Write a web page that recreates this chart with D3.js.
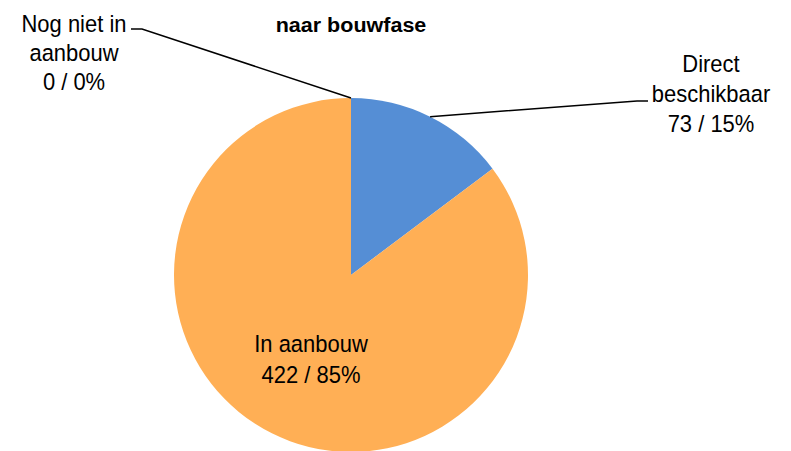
<!DOCTYPE html>
<html><head><meta charset="utf-8">
<script src="https://cdn.jsdelivr.net/npm/d3@7/dist/d3.min.js"></script>
<style>body{margin:0;background:#fff}svg{display:block}text{font-family:"Liberation Sans",Arial,sans-serif}</style>
</head><body>
<script>
const title = "naar bouwfase";
const categories = ["Direct beschikbaar", "In aanbouw", "Nog niet in aanbouw"];
const labelLines = [["Direct", "beschikbaar"], ["In aanbouw"], ["Nog niet in", "aanbouw"]];
const values = [73, 422, 0];
const colors = ["#558ED5", "#FFAF55", "#A5A5A5"];

const W = 791, H = 451;
const cx = 351, cy = 275, R = 177;
const svg = d3.select("body").append("svg").attr("width", W).attr("height", H);

const total = d3.sum(values);
const pie = d3.pie().sort(null).value(d => d)(values);
const arc = d3.arc().innerRadius(0).outerRadius(R);
const g = svg.append("g").attr("transform", `translate(${cx},${cy})`);
g.selectAll("path").data(pie).join("path")
  .attr("d", arc).attr("fill", (d, i) => colors[i]);

svg.append("text").attr("x", 0).attr("y", 0).attr("text-anchor", "middle")
  .attr("transform", `translate(${cx},31.5) scale(1.05,1)`)
  .attr("font-size", 20.5).attr("font-weight", "bold").text(title);

// label layout (positions separate from data)
const layout = [
  {x: 711, y: 72, lh: 30, leader: [[637, 101], [648, 101]]},
  {x: 311, y: 352, lh: 31, leader: null},
  {x: 74, y: 32, lh: 29, leader: [[142, 29], [131, 29]]}
];

pie.forEach((d, i) => {
  const L = layout[i];
  const pct = Math.round(values[i] / total * 100);
  const lines = labelLines[i].concat([`${values[i]} / ${pct}%`]);
  const t = svg.append("text").attr("text-anchor", "middle").attr("font-size", 23.5).attr("fill", "#000")
    .attr("transform", `translate(${L.x},${L.y}) scale(0.935,1)`);
  lines.forEach((s, k) => t.append("tspan").attr("x", 0).attr("y", k * L.lh).text(s));
  if (L.leader) {
    const a = (d.startAngle + d.endAngle) / 2;
    const p0 = [cx + R * Math.sin(a), cy - R * Math.cos(a)];
    svg.append("polyline")
      .attr("points", [p0].concat(L.leader).map(p => p.join(",")).join(" "))
      .attr("fill", "none").attr("stroke", "#000").attr("stroke-width", 1.5);
  }
});
</script>
</body></html>
